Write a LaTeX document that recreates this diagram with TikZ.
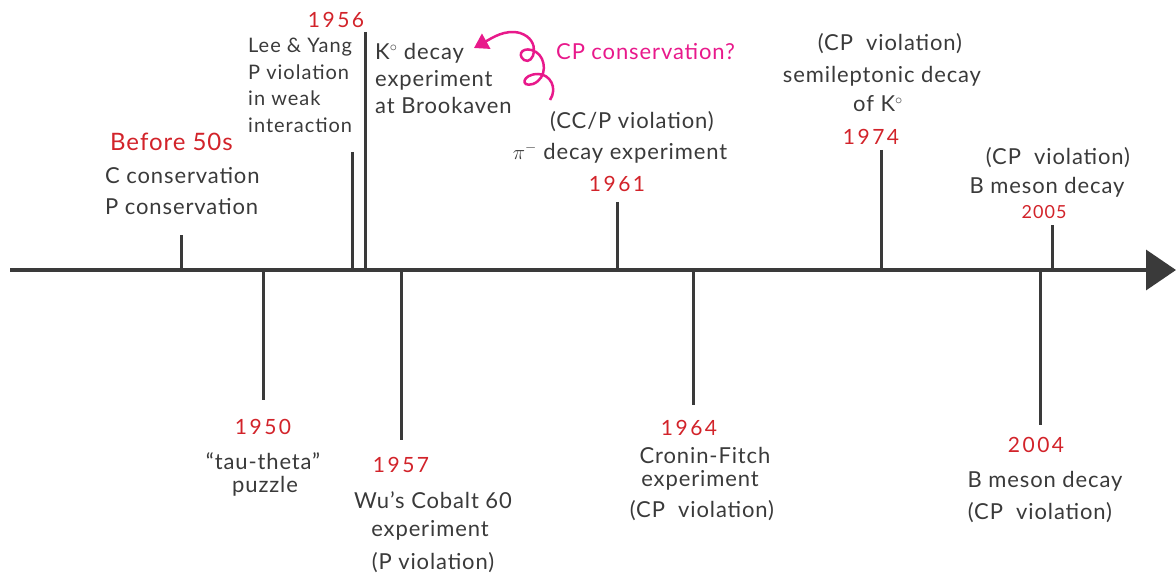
\documentclass[tikz,border=0pt]{standalone}
\usepackage{fontspec}
\setmainfont{Lato}
\usetikzlibrary{arrows.meta}
\definecolor{ink}{HTML}{3A3A3A}
\definecolor{yr}{HTML}{D2232A}
\definecolor{mag}{HTML}{E8198B}
\newcommand{\cpv}{(CP\hspace{0.6em}violation)}
\tikzset{
  txt/.style={text=ink, font=\fontsize{22}{27}\selectfont\addfontfeatures{LetterSpace=4}, inner sep=0pt, align=center},
  year/.style={text=yr, font=\fontsize{21}{24}\selectfont\addfontfeatures{LetterSpace=12}, inner sep=0pt},
  tick/.style={draw=ink, line width=3pt},
}
\begin{document}
\begin{tikzpicture}[x=1pt,y=-1pt]
\useasboundingbox (0,0) rectangle (1176,575);
% axis
\coordinate (a0) at (10,270);
\coordinate (a1) at (1176,270);
\draw[draw=ink, line width=3.5pt, -{Triangle[length=30pt,width=40pt]}] (a0) -- (a1);
% ticks
\coordinate (t1a) at (181,235); \coordinate (t1b) at (181,270);
\coordinate (t2a) at (263,270); \coordinate (t2b) at (263,400);
\coordinate (t3a) at (352,152); \coordinate (t3b) at (352,270);
\coordinate (t4a) at (365,32);  \coordinate (t4b) at (365,270);
\coordinate (t5a) at (401,270); \coordinate (t5b) at (401,440);
\coordinate (t6a) at (617,202); \coordinate (t6b) at (617,270);
\coordinate (t7a) at (693,270); \coordinate (t7b) at (693,405);
\coordinate (t8a) at (881,150); \coordinate (t8b) at (881,270);
\coordinate (t9a) at (1052,225); \coordinate (t9b) at (1052,270);
\coordinate (t10a) at (1040,270); \coordinate (t10b) at (1040,425);
\foreach \i in {1,...,10} \draw[tick] (t\i a) -- (t\i b);
% before 50s
\node[year, font=\fontsize{24}{27}\selectfont\addfontfeatures{LetterSpace=4}, anchor=west] (y0) at (110,142) {Before 50s};
\node[txt, anchor=west] (c0) at (105,176) {C conservation};
\node[txt, anchor=west] (p0) at (105,207) {P conservation};
% 1956
\node[year] (y56) at (336,20) {1956};
\node[txt, font=\fontsize{20}{26.5}\selectfont\addfontfeatures{LetterSpace=5}, anchor=north west, align=left] (ly) at (248,38) {Lee \& Yang\\P violation\\in weak\\interaction};
\node[txt, anchor=north west, align=left] (kd) at (375,43) {K$^{\circ}$ decay\\experiment\\at Brookaven};
% CP conservation?
\node[text=mag, font=\fontsize{22}{26}\selectfont\addfontfeatures{LetterSpace=4}, inner sep=0pt, anchor=west] (cpq) at (556,52) {CP conservation?};
\coordinate (cs) at (550,100);
\coordinate (ce) at (474,48);
\draw[mag, line width=2.5pt, -{Triangle[length=14pt,width=17pt]}]
  (cs) .. controls (558,88) and (550,74) .. (538,74)
       .. controls (522,74) and (520,88) .. (533,84)
       .. controls (548,78) and (546,58) .. (536,52)
       .. controls (524,45) and (516,54) .. (524,60)
       .. controls (534,66) and (542,40) .. (520,33)
       .. controls (505,29) and (492,38) .. (ce);
% 1961
\node[txt] (cc) at (632,122) {(CC/P violation)};
\node[txt] (pi) at (620,153) {$\pi^{-}$ decay experiment};
\node[year] (y61) at (617,184) {1961};
% 1974
\node[txt] (cp74) at (890,44) {\cpv};
\node[txt] (se) at (882,76) {semileptonic decay};
\node[txt] (ok) at (878,104) {of K$^{\circ}$};
\node[year] (y74) at (871,137) {1974};
% 2005
\node[txt] (cp05) at (1058,158) {\cpv};
\node[txt] (bm05) at (1047,187) {B meson decay};
\node[year, font=\fontsize{18}{20}\selectfont\addfontfeatures{LetterSpace=6}] (y05) at (1044,212) {2005};
% 1950
\node[year] (y50) at (263,427) {1950};
\node[txt] (tt) at (263,461) {``tau-theta''};
\node[txt] (pz) at (265,486) {puzzle};
% 1957
\node[year] (y57) at (401,465) {1957};
\node[txt] (wu) at (433,500) {Wu's Cobalt 60};
\node[txt] (ex57) at (430,530) {experiment};
\node[txt] (pv) at (433,563) {(P violation)};
% 1964
\node[year] (y64) at (689,428) {1964};
\node[txt] (cf) at (705,455) {Cronin-Fitch};
\node[txt] (ex64) at (700,480) {experiment};
\node[txt] (cp64) at (702,511) {\cpv};
% 2004
\node[year] (y04) at (1036,445) {2004};
\node[txt] (bm04) at (1045,481) {B meson decay};
\node[txt] (cp04) at (1040,513) {\cpv};
\end{tikzpicture}
\end{document}
